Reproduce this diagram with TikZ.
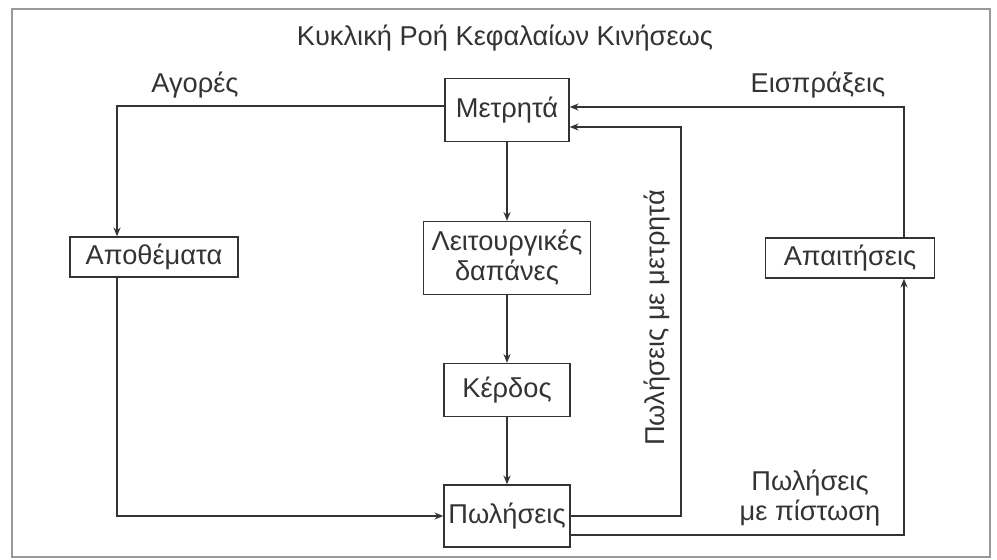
\documentclass[tikz,border=0pt]{standalone}
\usepackage{fontspec}
\setmainfont{Liberation Sans}
\usepackage{xcolor}
\usepackage{tikz}
\usetikzlibrary{calc,arrows.meta}

\begin{document}
\begin{tikzpicture}[x=0.02cm, y=-0.02cm, thick, color=black!80, font=\fontsize{15.5}{17}\selectfont, main/.style = {draw, inner sep=0pt, align=center}, flow/.style = {-{Stealth[length=5pt, width=4pt]}}]
		\useasboundingbox (0,0) rectangle (997,559);
		\draw[black!40, semithick] (12,9) rectangle (990,557);
		\node (title) at (505,38) {Κυκλική Ροή Κεφαλαίων Κινήσεως};
		
		\begin{scope}
			\node[main, minimum width=2.48cm, minimum height=1.26cm] (metr) at (507,110) {Μετρητά};
			\node[main, minimum width=3.36cm, minimum height=0.8cm] (apoth) at (154,257) {Αποθέματα};
			\node[main, minimum width=3.34cm, minimum height=1.46cm] (leit) at (507,258) {Λειτουργικές\\δαπάνες};
			\node[main, minimum width=3.38cm, minimum height=0.8cm] (apait) at (850,258) {Απαιτήσεις};
			\node[main, minimum width=2.52cm, minimum height=1.06cm] (kerd) at (507,390) {Κέρδος};
			\node[main, minimum width=2.52cm, minimum height=1.24cm] (pol) at (507,516) {Πωλήσεις};
		\end{scope}
		
		\begin{scope}
			\path[shape=coordinate]
			(117,106) coordinate(agor)
			(681,127) coordinate(cash)
			(904,535) coordinate(credit)
			(904,107) coordinate(eisp);
			
			\draw[flow] (metr.west |- agor) -- (agor) -- (agor |- apoth.north);
			\draw[flow] (agor |- apoth.south) |- (pol.west);
			\draw[flow] (metr) -- (leit);
			\draw[flow] (leit) -- (kerd);
			\draw[flow] (kerd) -- (pol);
			\draw[flow] (pol.east) -| (cash) -- (metr.east |- cash);
			\draw[flow] (pol.east |- credit) -- (credit) -- (credit |- apait.south);
			\draw[flow] (eisp |- apait.north) -- (eisp) -- (metr.east |- eisp);
		\end{scope}
		
		\node (agorlbl) at (195,85) {Αγορές};
		\node (eisplbl) at (818,85) {Εισπράξεις};
		\node[rotate=90] (cashlbl) at (657,318) {Πωλήσεις με μετρητά};
		\node[align=center] (creditlbl) at (810,498) {Πωλήσεις\\με πίστωση};
	\end{tikzpicture}
\end{document}
